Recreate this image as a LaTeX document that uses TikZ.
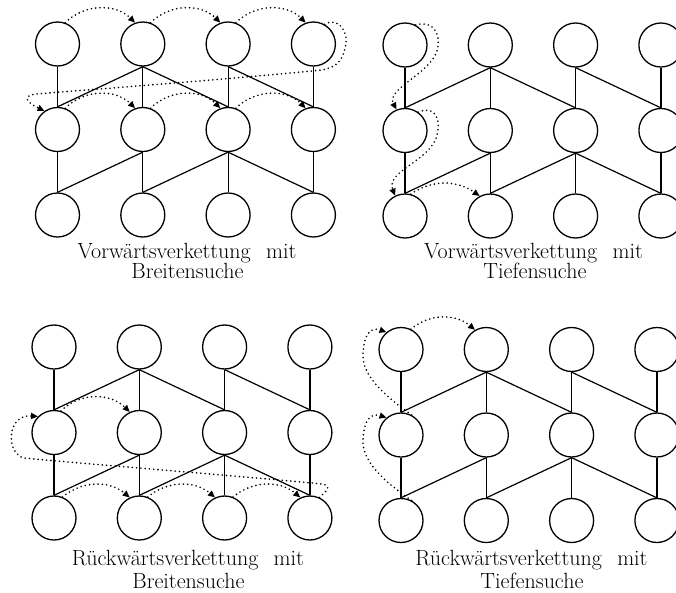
\documentclass[tikz,border=0pt]{standalone}
\usepackage{fontspec}
\usetikzlibrary{arrows.meta}
\tikzset{
  circ/.style={circle, draw, line width=1.3pt, minimum size=44pt, inner sep=0pt},
  edge/.style={line width=1.2pt},
  dots/.style={line width=1.8pt, dash pattern=on 0pt off 4.3pt, line cap=round,
    -{Triangle[length=7pt,width=6pt]}},
  lbl/.style={anchor=base, inner sep=0pt,
    font=\fontsize{22}{26}\selectfont\addfontfeatures{FakeBold=1.6,FakeStretch=1.05}}
}
\newcommand\mkgrid[3]{%
  \foreach \r/\rr in {A/0,B/1,C/2}{
    \foreach \c in {1,2,3,4}{
      \node[circ] (#1-\r\c) at ({#2+(\c-1)*85.3},{#3+\rr*85.5}) {};
    }
  }
  \foreach \u/\l in {A1/B1,A2/B1,A2/B2,A2/B3,A3/B3,A3/B4,A4/B4,B1/C1,B2/C1,B2/C2,B3/C2,B3/C3,B3/C4,B4/C4}{
    \draw[edge] (#1-\u.south) -- (#1-\l.north);
  }
}
\begin{document}
\begin{tikzpicture}[x=1pt,y=-1pt]
\useasboundingbox (0,0) rectangle (676,592);
\fill[white] (0,0) rectangle (676,592);

\mkgrid{TL}{57.5}{44}
\mkgrid{TR}{405}{45}
\mkgrid{BL}{54}{347}
\mkgrid{BR}{401}{349.5}

% Top-left: Vorwaertsverkettung mit Breitensuche
\draw[dots] (TL-A1.70) to[out=45,in=135] (TL-A2.110);
\draw[dots] (TL-A2.70) to[out=45,in=135] (TL-A3.110);
\draw[dots] (TL-A3.70) to[out=45,in=135] (TL-A4.110);
\draw[dots] (TL-A4.60) .. controls (338,16) and (350,32) .. (345,48)
  .. controls (342,62) and (336,67) .. (322,70)
  .. controls (220,80) and (110,88) .. (36,94)
  .. controls (22,96) and (26,102) .. (TL-B1.125);
\draw[dots] (TL-B1.70) to[out=45,in=135] (TL-B2.110);
\draw[dots] (TL-B2.70) to[out=45,in=135] (TL-B3.110);
\draw[dots] (TL-B3.70) to[out=45,in=135] (TL-B4.110);

% Top-right: Vorwaertsverkettung mit Tiefensuche
\draw[dots] (TR-A1.62) .. controls (432,20) and (440,32) .. (438,46)
  .. controls (436,72) and (385,88) .. (TR-B1.112);
\draw[dots] (TR-B1.54) .. controls (432,106) and (440,115) .. (438,130)
  .. controls (436,160) and (385,170) .. (TR-C1.116);
\draw[dots] (TR-C1.75) to[out=35,in=145] (TR-C2.118);

% Bottom-left: Rueckwaertsverkettung mit Breitensuche
\draw[dots] (BL-C1.68) to[out=40,in=140] (BL-C2.115);
\draw[dots] (BL-C2.68) to[out=40,in=140] (BL-C3.115);
\draw[dots] (BL-C3.68) to[out=40,in=140] (BL-C4.115);
\draw[dots] (BL-C4.65) .. controls (324,493) and (334,486) .. (322,484)
  .. controls (240,476) and (110,466) .. (24,458)
  .. controls (6,454) and (6,414) .. (BL-B1.135);
\draw[dots] (BL-B1.72) to[out=45,in=135] (BL-B2.115);

% Bottom-right: Rueckwaertsverkettung mit Tiefensuche
\draw[dots] (BR-C1.62) .. controls (385,482) and (362,462) .. (363,440)
  .. controls (364,418) and (372,413) .. (BR-B1.130);
\draw[dots] (BR-B1.62) .. controls (385,396) and (362,376) .. (363,354)
  .. controls (364,332) and (372,327) .. (BR-A1.130);
\draw[dots] (BR-A1.64) to[out=40,in=140] (BR-A2.120);

% Labels
\node[lbl] (tl1) at (187,258) {Vorwärtsverkettung\hspace{0.7em}mit};
\node[lbl] (tl2) at (187.5,278) {Breitensuche};
\node[lbl] (tr1) at (533.5,258) {Vorwärtsverkettung\hspace{0.7em}mit};
\node[lbl] (tr2) at (535,278) {Tiefensuche};
\node[lbl] (bl1) at (188,565) {Rückwärtsverkettung\hspace{0.7em}mit};
\node[lbl] (bl2) at (188.5,588) {Breitensuche};
\node[lbl] (br1) at (531.5,565) {Rückwärtsverkettung\hspace{0.7em}mit};
\node[lbl] (br2) at (532,588) {Tiefensuche};
\end{tikzpicture}
\end{document}
